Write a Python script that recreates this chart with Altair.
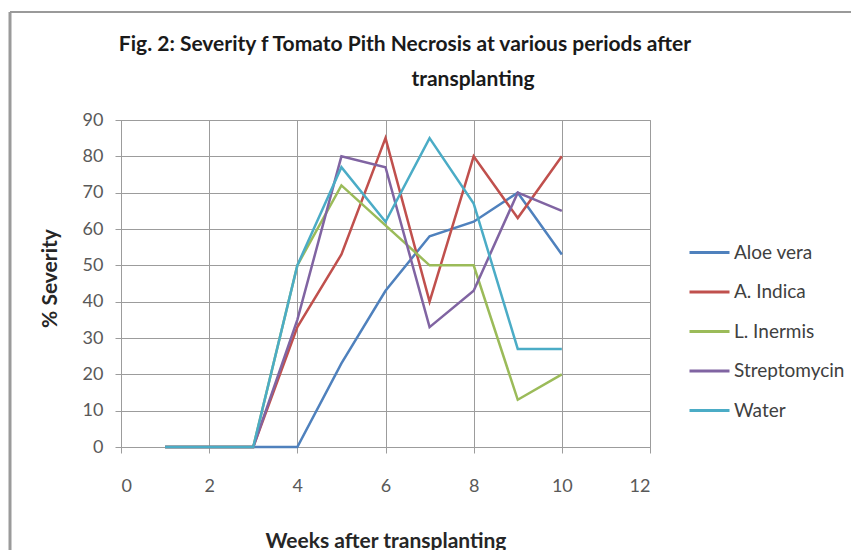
import altair as alt
import pandas as pd

weeks = [1, 2, 3, 4, 5, 6, 7, 8, 9, 10]
aloe_vera = [0, 0, 0, 0, 23, 43, 58, 62, 70, 53]
a_indica = [0, 0, 0, 33, 53, 85, 40, 80, 63, 80]
l_inermis = [0, 0, 0, 50, 72, 61, 50, 50, 13, 20]
streptomycin = [0, 0, 0, 35, 80, 77, 33, 43, 70, 65]
water = [0, 0, 0, 50, 77, 62, 85, 67, 27, 27]

series_names = ["Aloe vera", "A. Indica", "L. Inermis", "Streptomycin", "Water"]
series_values = [aloe_vera, a_indica, l_inermis, streptomycin, water]
colors = ["#4F81BD", "#C0504D", "#9BBB59", "#8064A2", "#4BACC6"]

x_ticks = [0, 2, 4, 6, 8, 10, 12]
y_ticks = [0, 10, 20, 30, 40, 50, 60, 70, 80, 90]

title_lines = ["Fig. 2: Severity f Tomato Pith Necrosis at various periods after",
               "transplanting"]

rows = []
for name, vals in zip(series_names, series_values):
    for w, v in zip(weeks, vals):
        rows.append({"Week": w, "Severity": v, "Series": name})
df = pd.DataFrame(rows)

FONT = "Lato"
GRID = "#9c9c9c"
LABEL = "#595959"

lines = alt.Chart(df).mark_line(strokeWidth=2.5).encode(
    x=alt.X("Week:Q",
            scale=alt.Scale(domain=[0, 12], nice=False),
            axis=alt.Axis(values=x_ticks, title="Weeks after transplanting",
                          titleY=94, titleBaseline="middle",
                          labelPadding=24, tickSize=6)),
    y=alt.Y("Severity:Q",
            scale=alt.Scale(domain=[0, 90], nice=False),
            axis=alt.Axis(values=y_ticks, title="% Severity",
                          titleX=-71, titleY=158, titleBaseline="middle",
                          labelPadding=12, tickSize=6)),
    color=alt.Color("Series:N",
                    scale=alt.Scale(domain=series_names, range=colors),
                    sort=series_names,
                    legend=alt.Legend(title=None, orient="none",
                                      legendX=567, legendY=111,
                                      symbolType="stroke", symbolSize=1600,
                                      symbolStrokeWidth=3, rowPadding=7.5,
                                      labelOffset=3, labelFontSize=19,
                                      labelColor="#404040", labelFont=FONT)),
)

one = pd.DataFrame({"k": [0]})
frame = alt.Chart(one).mark_rule(color="#9a9a9a", strokeWidth=3).encode(
    x=alt.value(-111), y=alt.value(-108), y2=alt.value(440)
)
frame_top = alt.Chart(one).mark_rule(color="#9a9a9a", strokeWidth=2).encode(
    x=alt.value(-111), x2=alt.value(740), y=alt.value(-108)
)
title1 = alt.Chart(one).mark_text(
    text=title_lines[0], font=FONT, fontSize=21, fontWeight="bold",
    color="#1a1a1a", align="center", baseline="middle"
).encode(x=alt.value(284), y=alt.value(-75))
title2 = alt.Chart(one).mark_text(
    text=title_lines[1], font=FONT, fontSize=21, fontWeight="bold",
    color="#1a1a1a", align="center", baseline="middle"
).encode(x=alt.value(352), y=alt.value(-40))

chart = alt.layer(frame, frame_top, title1, title2, lines).properties(
    width=529,
    height=327,
    autosize=alt.AutoSizeParams(type="none"),
    padding={"left": 113, "top": 112, "right": 201, "bottom": 103},
).configure_view(stroke=GRID, strokeWidth=1).configure_axis(
    gridColor=GRID, gridWidth=1, domainColor=GRID, tickColor=GRID,
    labelFont=FONT, labelFontSize=18, labelColor=LABEL,
    titleFont=FONT, titleFontSize=21, titleFontWeight="bold", titleColor="#262626",
)

chart.save("out.html", embed_options={"renderer": "svg", "actions": False})
